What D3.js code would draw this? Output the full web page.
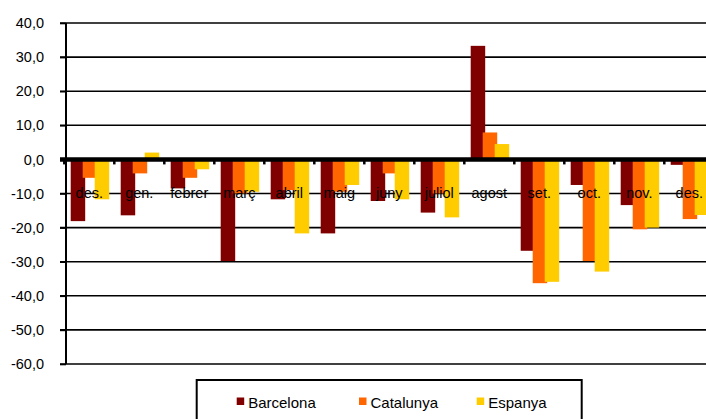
<!DOCTYPE html>
<html>
<head>
<meta charset="utf-8">
<script src="https://cdn.jsdelivr.net/npm/d3@7"></script>
<style>
html,body{margin:0;padding:0;background:#fff;overflow:hidden;}
svg{display:block;font-family:"Liberation Sans",Arial,sans-serif;}
</style>
</head>
<body>
<svg id="chart" width="706" height="419"></svg>
<script>
const categories = ["des.","gen.","febrer","març","abril","maig","juny","juliol","agost","set.","oct.","nov.","des."];
const seriesNames = ["Barcelona","Catalunya","Espanya"];
const barcelona = [-18.1,-16.4,-8.5,-29.8,-11.7,-21.7,-12.2,-15.6,33.3,-26.8,-7.5,-13.4,-1.6];
const catalunya = [-5.4,-4.1,-5.4,-10.0,-9.0,-9.5,-4.1,-10.0,7.9,-36.3,-29.8,-20.5,-17.5];
const espanya = [-11.7,2.0,-2.9,-9.5,-21.7,-7.5,-11.7,-17.0,4.5,-35.9,-32.9,-20.0,-16.3];
const yTicks = [40,30,20,10,0,-10,-20,-30,-40,-50,-60];
const colors = ["#800000","#FF6600","#FFCC00"];

const svg = d3.select("#chart");
const axisX = 66, gridLeft = 60, gridRight = 706;
const y = d3.scaleLinear().domain([-60,40]).range([364,23]);
const x = d3.scaleBand().domain(d3.range(categories.length)).range([64.3,64.3+50*categories.length]).padding(0);
const bw = x.bandwidth();
const barW = 14.5, barOff = [6.4,18.4,30.4];
const allSeries = [barcelona,catalunya,espanya];

// gridlines
svg.append("g").selectAll("line").data(yTicks.filter(d=>d!==0)).join("line")
  .attr("x1",gridLeft).attr("x2",gridRight)
  .attr("y1",d=>y(d)).attr("y2",d=>y(d))
  .attr("stroke","#000").attr("stroke-width",1.6);

// bars
allSeries.forEach((vals,si)=>{
  svg.append("g").selectAll("rect").data(vals).join("rect")
    .attr("x",(d,i)=>x(i)+barOff[si])
    .attr("width",barW)
    .attr("y",d=>y(Math.max(0,d)))
    .attr("height",d=>Math.abs(y(d)-y(0)))
    .attr("fill",colors[si]);
});

// zero line
svg.append("line").attr("x1",gridLeft).attr("x2",gridRight)
  .attr("y1",y(0)).attr("y2",y(0)).attr("stroke","#000").attr("stroke-width",4.5);

// category boundary ticks
const bounds = d3.range(categories.length+1).map(i=>64.3+i*bw);
svg.append("g").selectAll("line").data(bounds).join("line")
  .attr("x1",d=>d).attr("x2",d=>d)
  .attr("y1",y(0)).attr("y2",y(0)+5)
  .attr("stroke","#000").attr("stroke-width",2.5);

// category labels
svg.append("g").selectAll("text").data(categories).join("text")
  .attr("x",(d,i)=>x(i)+bw/2)
  .attr("y",198)
  .attr("text-anchor","middle")
  .attr("font-size","14.5px")
  .attr("fill","#000")
  .text(d=>d);

// y axis
const fmt = d=>d3.format(".1f")(d).replace(".",",").replace("−","-");
const yAxis = d3.axisLeft(y).tickValues(yTicks).tickSize(6).tickPadding(16).tickFormat(fmt);
const gA = svg.append("g").attr("transform",`translate(${axisX},0)`).call(yAxis);
gA.select(".domain").remove();
gA.selectAll(".tick line").attr("stroke","#000").attr("stroke-width",1.6);
gA.selectAll(".tick text").attr("font-size","14.5px").attr("fill","#000")
  .attr("font-family","'Liberation Sans',Arial,sans-serif");
svg.append("line").attr("x1",axisX).attr("x2",axisX).attr("y1",y(40)).attr("y2",y(-60))
  .attr("stroke","#000").attr("stroke-width",2);

// legend
svg.append("rect").attr("x",196.7).attr("y",380).attr("width",385).attr("height",60)
  .attr("fill","#fff").attr("stroke","#000").attr("stroke-width",2);
const legX = [236.7,359,476.7];
const lg = svg.append("g").selectAll("g").data(seriesNames).join("g");
lg.append("rect").attr("x",(d,i)=>legX[i]).attr("y",397.5).attr("width",7.5).attr("height",7.5)
  .attr("fill",(d,i)=>colors[i]);
lg.append("text").attr("x",(d,i)=>legX[i]+11.5).attr("y",407.5)
  .attr("font-size","15px").attr("fill","#000").text(d=>d);
</script>
</body>
</html>
